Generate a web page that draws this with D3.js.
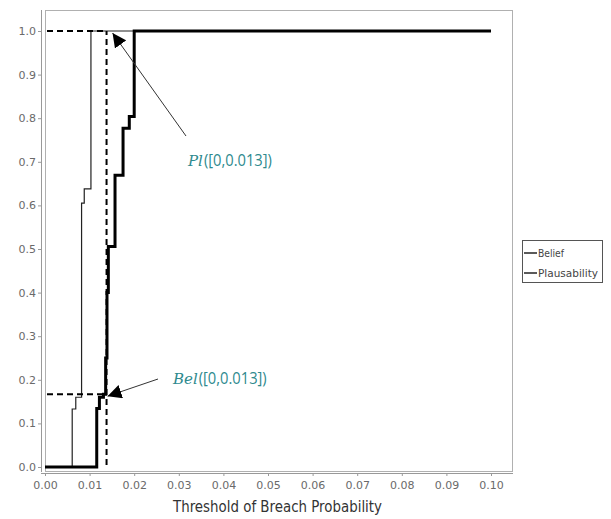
<!DOCTYPE html>
<html>
<head>
<meta charset="utf-8">
<script src="https://cdn.jsdelivr.net/npm/d3@7"></script>
<style>
  body { margin: 0; background: #fff; }
  text { font-family: "DejaVu Sans", Verdana, sans-serif; }
</style>
</head>
<body>
<div id="chart"></div>
<script>
// step points: [threshold, value]
var beliefX = [0, 0.0116, 0.0122, 0.0131, 0.0136, 0.0139, 0.0142, 0.0157, 0.0175, 0.0189, 0.0200, 0.10];
var beliefY = [0, 0.134, 0.160, 0.167, 0.25, 0.40, 0.506, 0.669, 0.777, 0.804, 1.0, 1.0];

var plausX = [0, 0.0061, 0.0069, 0.0082, 0.0088, 0.0103, 0.10];
var plausY = [0, 0.133, 0.160, 0.605, 0.638, 1.0, 1.0];

var xTicks = [0, 0.01, 0.02, 0.03, 0.04, 0.05, 0.06, 0.07, 0.08, 0.09, 0.10];
var yTicks = [0, 0.1, 0.2, 0.3, 0.4, 0.5, 0.6, 0.7, 0.8, 0.9, 1.0];

var markX = 0.0138;   // the 0.013 threshold
var belMark = 0.167;
var plMark = 1.0;

var seriesNames = ["Belief", "Plausability"];

var W = 611, H = 519;

var svg = d3.select("#chart")
  .append("svg")
    .attr("width", W)
    .attr("height", H);

var x = d3.scaleLinear().domain([0, 0.10]).range([45, 491]);
var y = d3.scaleLinear().domain([0, 1]).range([467, 31]);

// plot frame
svg.append("rect")
  .attr("x", 45.5).attr("y", 10.5)
  .attr("width", 467).attr("height", 461)
  .attr("fill", "none")
  .attr("stroke", "#b0b0b0");

// y axis
var yAxis = svg.append("g")
  .attr("transform", "translate(41,0)")
  .call(d3.axisLeft(y).tickValues(yTicks).tickFormat(d3.format(".1f")).tickSize(3).tickSizeOuter(0));
yAxis.select(".domain").remove();
svg.append("line")
  .attr("x1", 41.5).attr("x2", 41.5).attr("y1", 10).attr("y2", 472)
  .attr("stroke", "#999");

// x axis
var xAxis = svg.append("g")
  .attr("transform", "translate(0,473)")
  .call(d3.axisBottom(x).tickValues(xTicks).tickFormat(d3.format(".2f")).tickSize(3).tickSizeOuter(0));
xAxis.select(".domain").remove();
svg.append("line")
  .attr("x1", 41).attr("x2", 513).attr("y1", 473.5).attr("y2", 473.5)
  .attr("stroke", "#999");

svg.selectAll(".tick line").attr("stroke", "#999");
svg.selectAll(".tick text")
  .attr("fill", "#6a6a6a")
  .style("font-size", "11px");
yAxis.selectAll(".tick text").attr("x", -5);
xAxis.selectAll(".tick text").attr("y", 8);

// axis title
svg.append("text")
  .attr("x", 173).attr("y", 512)
  .attr("textLength", 209)
  .attr("lengthAdjust", "spacingAndGlyphs")
  .attr("fill", "#333")
  .style("font-size", "15px")
  .text("Threshold of Breach Probability");

// series
var line = d3.line()
  .x(function(d) { return x(d[0]); })
  .y(function(d) { return y(d[1]); })
  .curve(d3.curveStepAfter);

var plausData = plausX.map(function(v, i) { return [v, plausY[i]]; });
var beliefData = beliefX.map(function(v, i) { return [v, beliefY[i]]; });

svg.append("path")
  .datum(plausData)
  .attr("d", line)
  .attr("fill", "none")
  .attr("stroke", "#222")
  .attr("stroke-width", 1.2);

svg.append("path")
  .datum(beliefData)
  .attr("d", line)
  .attr("fill", "none")
  .attr("stroke", "#000")
  .attr("stroke-width", 3);

// dashed guides
var dash = svg.append("g")
  .attr("stroke", "#000")
  .attr("stroke-width", 2)
  .attr("stroke-dasharray", "6,4")
  .attr("fill", "none");

dash.append("line")
  .attr("x1", x(0) + 2).attr("x2", x(markX))
  .attr("y1", y(plMark)).attr("y2", y(plMark));
dash.append("line")
  .attr("x1", x(0) + 2).attr("x2", x(markX))
  .attr("y1", y(belMark)).attr("y2", y(belMark));
dash.append("line")
  .attr("x1", x(markX)).attr("x2", x(markX))
  .attr("y1", y(0) - 2).attr("y2", y(plMark));

// arrows
var defs = svg.append("defs");
defs.append("marker")
  .attr("id", "arrow")
  .attr("viewBox", "0 0 10 10")
  .attr("refX", 10).attr("refY", 5)
  .attr("markerWidth", 14).attr("markerHeight", 14)
  .attr("markerUnits", "userSpaceOnUse")
  .attr("orient", "auto")
  .append("path")
    .attr("d", "M0,0 L10,5 L0,10 z")
    .attr("fill", "#000");

svg.append("line")
  .attr("x1", 186).attr("y1", 136)
  .attr("x2", x(markX) + 6).attr("y2", y(plMark) + 2)
  .attr("stroke", "#333").attr("stroke-width", 1)
  .attr("marker-end", "url(#arrow)");

svg.append("line")
  .attr("x1", 158).attr("y1", 379)
  .attr("x2", x(markX) + 1).attr("y2", y(belMark) + 2)
  .attr("stroke", "#333").attr("stroke-width", 1)
  .attr("marker-end", "url(#arrow)");

// annotations
var teal = "#2e8a8e";
function label(px, py, fn, rest) {
  var t = svg.append("text")
    .attr("x", px).attr("y", py)
    .attr("fill", teal)
    .style("font-size", "15px");
  t.append("tspan")
    .style("font-family", "'DejaVu Serif', 'Liberation Serif', serif")
    .style("font-style", "italic")
    .text(fn);
  t.append("tspan")
    .attr("dx", 1)
    .attr("textLength", 68)
    .attr("lengthAdjust", "spacingAndGlyphs")
    .style("font-family", "'Open Sans', 'Liberation Sans', sans-serif")
    .style("font-size", "16px")
    .text(rest);
}
label(188, 166, "Pl", "([0,0.013])");
label(173, 384, "Bel", "([0,0.013])");

// legend
var leg = svg.append("g");
leg.append("rect")
  .attr("x", 522.5).attr("y", 240.5)
  .attr("width", 80).attr("height", 42)
  .attr("fill", "#fff")
  .attr("stroke", "#555");

seriesNames.forEach(function(name, i) {
  var ly = 253 + i * 20;
  leg.append("line")
    .attr("x1", 524).attr("x2", 537)
    .attr("y1", ly).attr("y2", ly)
    .attr("stroke", "#000").attr("stroke-width", 1.3);
  leg.append("text")
    .attr("x", 538).attr("y", ly + 4)
    .attr("fill", "#444")
    .style("font-family", "'DejaVu Sans Condensed', 'DejaVu Sans', sans-serif")
    .style("font-size", "11px")
    .attr("textLength", name === "Belief" ? 26 : 60)
    .attr("lengthAdjust", "spacingAndGlyphs")
    .text(name);
});
</script>
</body>
</html>
